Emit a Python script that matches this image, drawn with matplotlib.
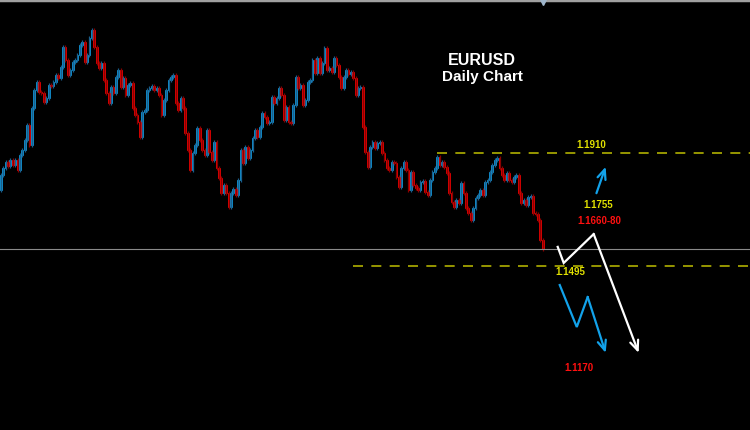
import matplotlib
matplotlib.use("Agg")
import matplotlib.pyplot as plt
import numpy as np

# daily EURUSD candles, open of each bar = previous close
first_open = 1.1775
closes = [
    1.1830, 1.1855, 1.1877, 1.1863, 1.1885, 1.1866, 1.1885, 1.1848, 1.1903, 1.1922,
    1.1958, 1.2013, 1.1940, 1.2076, 1.2142, 1.2171, 1.2134, 1.2131, 1.2098, 1.2112,
    1.2160, 1.2156, 1.2171, 1.2197, 1.2186, 1.2226, 1.2300, 1.2252, 1.2197, 1.2215,
    1.2244, 1.2252, 1.2270, 1.2307, 1.2318, 1.2244, 1.2270, 1.2333, 1.2362, 1.2300,
    1.2241, 1.2222, 1.2241, 1.2178, 1.2131, 1.2094, 1.2153,
    1.2131, 1.2189, 1.2215, 1.2153, 1.2186, 1.2123, 1.2160, 1.2167, 1.2076, 1.2050,
    1.2024, 1.1969, 1.2061, 1.2068, 1.2142, 1.2149, 1.2156, 1.2142, 1.2149, 1.2123,
    1.2050, 1.2105, 1.2142, 1.2178, 1.2189, 1.2197, 1.2094, 1.2068, 1.2112, 1.2076,
    1.1984, 1.1922, 1.1848, 1.1910, 1.1940, 1.2002, 1.1958, 1.1922, 1.1903, 1.1995,
    1.1914, 1.1885, 1.1951,
    1.1855, 1.1819, 1.1764, 1.1793, 1.1764, 1.1712, 1.1764, 1.1778, 1.1756, 1.1811,
    1.1922, 1.1874, 1.1933, 1.1892, 1.1922, 1.1965, 1.1995, 1.1969, 1.2006, 1.2057,
    1.2043, 1.2021, 1.2024, 1.2116, 1.2094, 1.2112, 1.2149, 1.2123, 1.2032, 1.2079,
    1.2024, 1.2021, 1.2087, 1.2189, 1.2149, 1.2160, 1.2087, 1.2105, 1.2171, 1.2178,
    1.2252, 1.2204, 1.2259, 1.2204,
    1.2241, 1.2296, 1.2215, 1.2222, 1.2208, 1.2259, 1.2233, 1.2189, 1.2149, 1.2189,
    1.2215, 1.2200, 1.2208, 1.2186, 1.2123, 1.2149, 1.2153, 1.2006, 1.1914, 1.1859,
    1.1933, 1.1951, 1.1929, 1.1947, 1.1951, 1.1910, 1.1885, 1.1855, 1.1848, 1.1877,
    1.1874, 1.1822, 1.1786, 1.1855, 1.1877, 1.1848, 1.1775, 1.1841, 1.1793, 1.1782,
    1.1775, 1.1804, 1.1808, 1.1767,
    1.1756, 1.1811, 1.1841, 1.1855, 1.1896, 1.1866, 1.1877, 1.1859, 1.1837, 1.1764,
    1.1731, 1.1712, 1.1738, 1.1727, 1.1800, 1.1764, 1.1709, 1.1690, 1.1665, 1.1709,
    1.1745, 1.1756, 1.1775, 1.1756, 1.1804, 1.1811, 1.1841, 1.1866, 1.1885, 1.1892,
    1.1855, 1.1830, 1.1811, 1.1837, 1.1811, 1.1804, 1.1822, 1.1830, 1.1764, 1.1727,
    1.1738, 1.1720, 1.1749, 1.1753, 1.1690, 1.1687, 1.1665, 1.1591, 1.1558,
]

resistance = 1.1910
support = 1.1495
last_price = 1.1558

# projected paths: (bars after last candle, price)
white_path = [(6.25, 1.1566), (8.75, 1.1507), (21.25, 1.1613), (40.0, 1.1177)]
blue_path = [(7.1, 1.1426), (14.2, 1.1272), (18.75, 1.1382), (26.25, 1.1177)]
blue_up = [(22.4, 1.1763), (26.25, 1.1860)]

# level labels: text, bars after last candle, price, colour
labels = [
    ("1.1910", 20.3, 1.1940, "#e0e000"),
    ("1.1755", 23.2, 1.1720, "#e0e000"),
    ("1.1660-80", 23.6, 1.1661, "#ff1010"),
    ("1.1495", 11.3, 1.1474, "#e0e000"),
    ("1.1170", 15.2, 1.1121, "#ff1010"),
]

BLUE = "#12a2ea"
RED = "#ff0000"
wick = 0.0008

n = len(closes)
c = np.array(closes)
o = np.array([first_open] + closes[:-1])
x = np.arange(n)
up = c >= o
last = n - 1

fig = plt.figure(figsize=(7.5, 4.3), dpi=100, facecolor="black")
ax = fig.add_axes([0, 0, 1, 1])
ax.set_facecolor("black")
ax.axis("off")

px_per_bar = 542 / last
ax.set_xlim(-0.3, -0.3 + 750 / px_per_bar)
ax.set_ylim(1.0894, 1.2472)

# wicks
hi = np.maximum(o, c) + wick
lo = np.minimum(o, c) - wick
ax.vlines(x[up], lo[up], hi[up], colors="#1b5f8c", lw=0.9)
ax.vlines(x[~up], lo[~up], hi[~up], colors="#8a0000", lw=0.9)

# bodies
body = np.maximum(np.abs(c - o), 0.0003)
ax.bar(x[up], body[up], bottom=np.minimum(o, c)[up], width=0.75,
       color=BLUE, edgecolor=BLUE, lw=0.5)
ax.bar(x[~up], body[~up], bottom=np.minimum(o, c)[~up], width=0.75,
       color=RED, edgecolor=RED, lw=0.5)

xmax = ax.get_xlim()[1]
ax.hlines(last_price, -1, xmax, colors="#8a8a8a", lw=0.8)
ax.hlines(resistance, last - 44, xmax, colors="#b0b000", lw=1.2, linestyles=(0, (6, 5)))
ax.hlines(support, last - 79, xmax, colors="#b0b000", lw=1.2, linestyles=(0, (6, 5)))


def draw_path(pts, color):
    xs = [last + p[0] for p in pts]
    ys = [p[1] for p in pts]
    ax.plot(xs[:-1], ys[:-1], color=color, lw=1.6, solid_joinstyle="miter")
    ax.annotate("", xy=(xs[-1], ys[-1]), xytext=(xs[-2], ys[-2]),
                arrowprops=dict(arrowstyle="->,head_length=0.7,head_width=0.3",
                                color=color, lw=1.6, shrinkA=0, shrinkB=0))


draw_path(white_path, "white")
draw_path(blue_path, BLUE)
draw_path(blue_up, BLUE)

for txt, dx, price, col in labels:
    ax.text(last + dx, price, txt, color=col, fontsize=7, fontweight="bold",
            family="Liberation Sans", ha="center", va="center")

ax.text(0.643, 0.86, "EURUSD", transform=ax.transAxes, color="white", fontsize=11.5,
        fontweight="bold", family="Liberation Sans", ha="center", va="center")
ax.text(0.643, 0.82, "Daily Chart", transform=ax.transAxes, color="white", fontsize=11,
        fontweight="bold", family="Liberation Sans", ha="center", va="center")

# top frame line with the small marker
top = ax.get_ylim()[1]
ax.axhline(top, color="#a0a0a0", lw=2.5)
ax.plot(last, top - 0.0008, marker="v", color="#9fb6cc", ms=5)

fig.savefig("out.png", dpi=100, facecolor="black")
